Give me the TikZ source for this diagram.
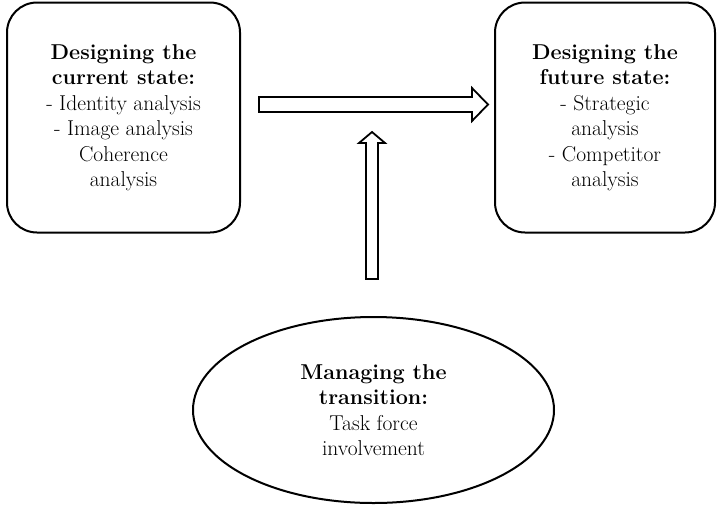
\documentclass[tikz,border=0pt]{standalone}
\usetikzlibrary{shapes.geometric,calc}
\begin{document}
\begin{tikzpicture}[x=1pt,y=-1pt,
  statebox/.style={draw,line width=2pt,rounded corners=30pt,minimum width=233pt,minimum height=230pt,align=center,inner sep=0pt,font=\fontsize{21.5}{25.5}\selectfont},
  transell/.style={draw,ellipse,line width=2pt,minimum width=361pt,minimum height=186pt,align=center,inner sep=0pt,font=\fontsize{21.5}{25.5}\selectfont},
  blockarrow/.style={draw,line width=1.8pt,fill=white,line join=miter}]
\useasboundingbox (0,0) rectangle (717,504);
\node[statebox] (cur) at (123.5,117.5) {\textbf{Designing the}\\\textbf{current state:}\\- Identity analysis\\- Image analysis\\Coherence\\analysis};
\node[statebox,minimum width=220pt] (fut) at (605,117.5) {\textbf{Designing the}\\\textbf{future state:}\\- Strategic\\analysis\\- Competitor\\analysis};
\node[transell] (trans) at (373.5,410) {\textbf{Managing the}\\\textbf{transition:}\\Task force\\involvement};
% horizontal block arrow
\coordinate (h0) at (259,104.5);
\coordinate (h1) at (488,104.5);
\draw[blockarrow] ($(h0)+(0,-7.5)$) -- (472,97) -- (472,88) -- (h1) -- (472,121) -- (472,112) -- ($(h0)+(0,7.5)$) -- cycle;
% vertical block arrow
\coordinate (v0) at (372,279);
\coordinate (v1) at (372,132);
\draw[blockarrow] ($(v0)+(-6,0)$) -- (366,143) -- (359,143) -- (v1) -- (385,143) -- (378,143) -- ($(v0)+(6,0)$) -- cycle;
\end{tikzpicture}
\end{document}
